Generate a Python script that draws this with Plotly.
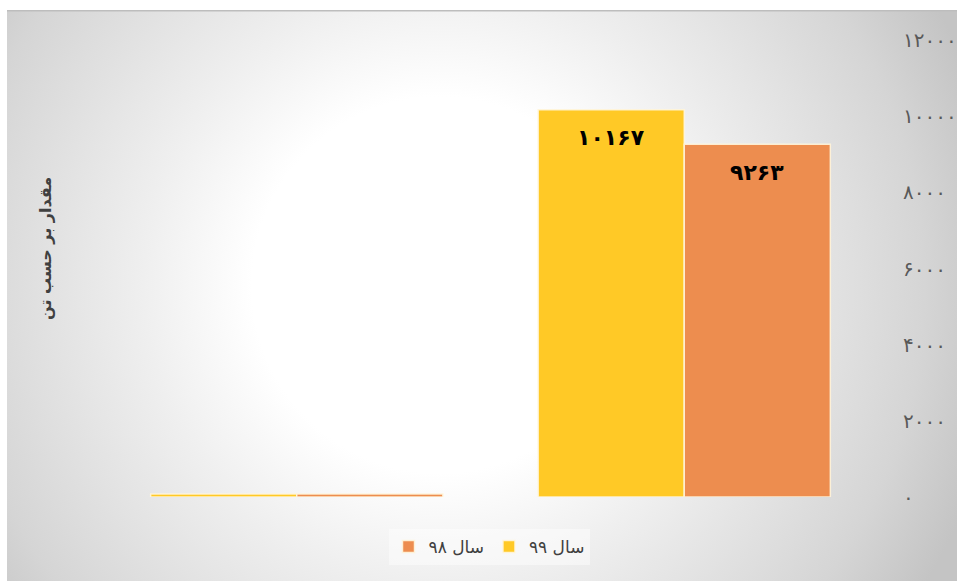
import plotly.graph_objects as go
import base64

categories = ["گروه ۱", "گروه ۲"]
series_names = ["سال ۹۹", "سال ۹۸"]
values_99 = [80, 10167]
values_98 = [78, 9263]
y_ticks = [0, 2000, 4000, 6000, 8000, 10000, 12000]
y_title = "مقدار بر حسب تن"

colors = ["#FFC926", "#ED8D4F"]
FA = str.maketrans("0123456789", "۰۱۲۳۴۵۶۷۸۹")
def fa(n):
    return str(n).translate(FA)

W, H = 957, 583
ml, mr, mt, mb = 103, 79, 40, 86
pw, ph = W - ml - mr, H - mt - mb

def px2paper_x(x):
    return (x - ml) / pw
def px2paper_y(y):
    return (H - mb - y) / ph

# background radial gradient (SVG data uri), screen coords
bx0, by0, bx1, by1 = 7, 10, 972, 581
bw, bh = bx1 - bx0, by1 - by0
svg = f'''<svg xmlns="http://www.w3.org/2000/svg" width="{bw}" height="{bh}" viewBox="0 0 {bw} {bh}">
<defs><radialGradient id="g" gradientUnits="userSpaceOnUse" cx="{440-bx0}" cy="{285-by0}" r="570">
<stop offset="0" stop-color="#ffffff"/>
<stop offset="0.33" stop-color="#ffffff"/>
<stop offset="0.52" stop-color="#efefef"/>
<stop offset="0.85" stop-color="#d5d5d5"/>
<stop offset="1" stop-color="#c4c4c4"/>
</radialGradient></defs>
<rect x="0" y="0" width="{bw}" height="{bh}" fill="url(#g)"/>
<rect x="0" y="0" width="{bw}" height="1.5" fill="#bdbdbd"/>
</svg>'''
src = "data:image/svg+xml;base64," + base64.b64encode(svg.encode()).decode()

fig = go.Figure()
for name, vals, col in [(series_names[0], values_99, colors[0]), (series_names[1], values_98, colors[1])]:
    fig.add_trace(go.Bar(
        x=categories, y=vals, name=name,
        marker=dict(color=col, line=dict(color="rgba(255,245,220,0.9)", width=1.5)),
    ))

# data labels
for vals, shift in [(values_99, -73), (values_98, 73)]:
    v = vals[1]
    fig.add_annotation(x=categories[1], y=v, xref="x", yref="y", text=fa(v),
                       showarrow=False, xshift=shift, yshift=-28, yanchor="middle",
                       font=dict(family="DejaVu Sans", size=22, color="#000000", weight="bold"))

fig.add_annotation(x=px2paper_x(45), y=px2paper_y(248), xref="paper", yref="paper",
                   text=y_title, textangle=-90, showarrow=False,
                   xanchor="center", yanchor="middle",
                   font=dict(family="DejaVu Sans", size=16, color="#404040", weight="bold"))

fig.update_layout(
    width=W, height=H,
    margin=dict(l=ml, r=mr, t=mt, b=mb, pad=0, autoexpand=False),
    paper_bgcolor="#ffffff", plot_bgcolor="rgba(0,0,0,0)",
    barmode="group", bargap=0.246, bargroupgap=0,
    images=[dict(source=src, xref="paper", yref="paper",
                 x=px2paper_x(bx0), y=px2paper_y(by0),
                 sizex=bw / pw, sizey=bh / ph,
                 xanchor="left", yanchor="top", sizing="stretch", layer="below")],
    xaxis=dict(showticklabels=False, showgrid=False, zeroline=False, showline=False,
               ticks="", automargin=False),
    yaxis=dict(side="right", range=[0, 12000], tickvals=y_ticks, automargin=False,
               ticktext=[fa(t) for t in y_ticks], showgrid=False, zeroline=False,
               showline=False, ticks="", ticklabelstandoff=24,
               tickfont=dict(family="DejaVu Sans", size=20, color="#595959")),
    legend=dict(orientation="h", x=px2paper_x(489), y=px2paper_y(547),
                xanchor="center", yanchor="middle", traceorder="reversed",
                bgcolor="rgba(255,255,255,0.45)",
                font=dict(family="DejaVu Sans", size=17, color="#404040")),
    showlegend=True,
)

fig.write_html("out.html", config={"displayModeBar": False},
               post_script="document.body.style.margin='0';document.body.style.overflow='hidden';")
